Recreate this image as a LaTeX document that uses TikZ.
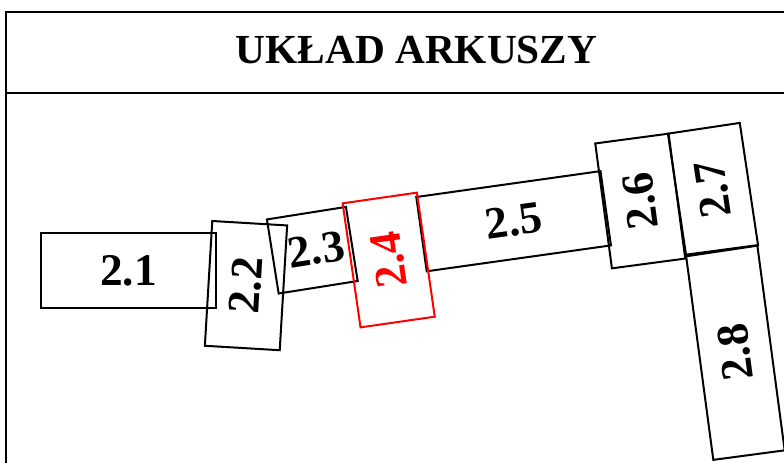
\documentclass[tikz,border=0pt]{standalone}
\usepackage{fontspec}
\setmainfont{Liberation Serif}
\begin{document}
\begin{tikzpicture}[x=0.75pt,y=-0.75pt,
  sheet/.style={draw=black, line width=1.5pt, inner sep=0pt, font=\bfseries\fontsize{34pt}{40pt}\selectfont},
  redsheet/.style={sheet, draw=red, text=red},
  titletext/.style={font=\bfseries\fontsize{31pt}{37pt}\selectfont, inner sep=0pt},
  frameline/.style={line width=1.5pt}]
\clip (0,0) rectangle (784,462);
% frame
\draw[frameline] (5.7,480) -- (5.7,11.7) -- (840,11.7);
\draw[frameline] (5.7,92.7) -- (840,92.7);
\node[titletext, anchor=base] (title) at (416.5,63.3) {UKŁAD ARKUSZY};
% sheets
\node[sheet, minimum width=131.25pt, minimum height=56.25pt] (s21) at (128.5,270.5) {2.1};
\node[sheet, rotate=86.6, minimum width=93.75pt, minimum height=56.25pt] (s22) at (246,285.6) {2.2};
\node[sheet, rotate=9, minimum width=60pt, minimum height=56.25pt] (s23) at (312.3,250.2) {\hspace*{6pt}2.3};
\node[sheet, rotate=8, minimum width=139.5pt, minimum height=56.25pt] (s25) at (513.6,221.2) {2.5};
\node[sheet, rotate=97.6, minimum width=94.5pt, minimum height=55.5pt] (s26) at (640.25,201) {2.6};
\node[sheet, rotate=98.5, minimum width=93pt, minimum height=54.5pt] (s27) at (713,189.6) {2.7};
\node[sheet, rotate=97.6, minimum width=155.25pt, minimum height=54pt] (s28) at (735.3,352.5) {2.8};
\node[redsheet, rotate=98.2, minimum width=94pt, minimum height=56.25pt] (s24) at (388.7,260) {2.4};
\end{tikzpicture}
\end{document}
